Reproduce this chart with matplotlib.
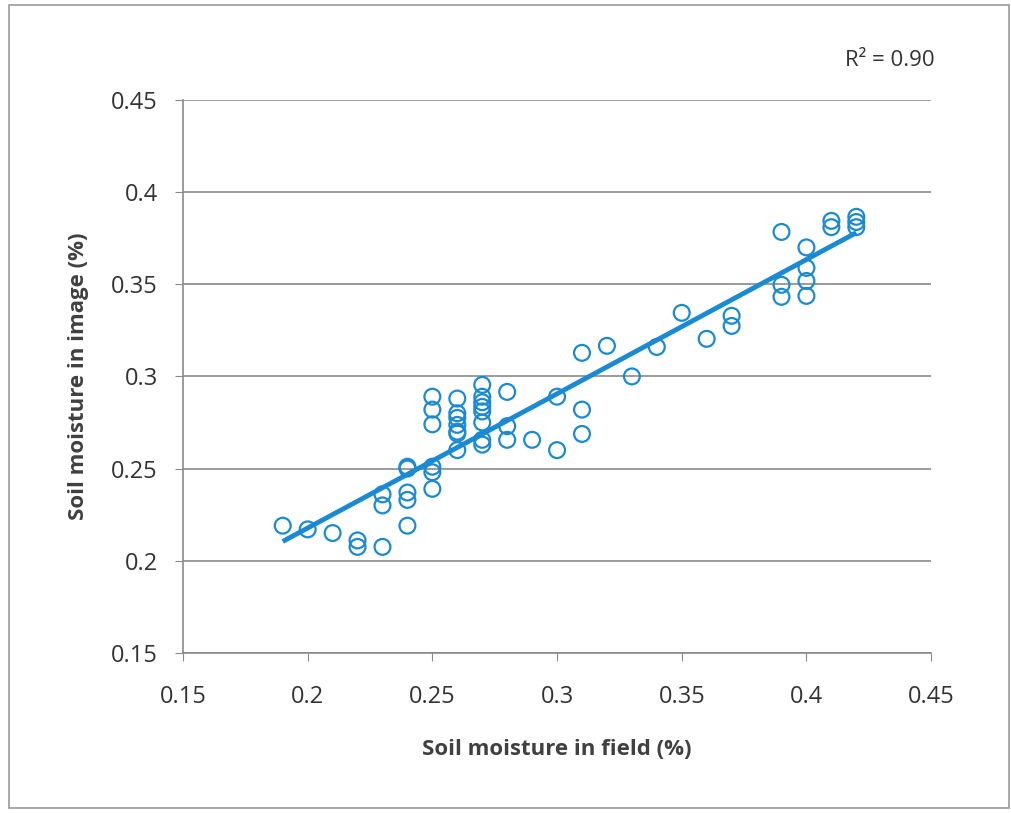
import numpy as np
import matplotlib.pyplot as plt
from matplotlib.patches import Rectangle

# field vs image soil moisture
field = [0.19, 0.20, 0.21, 0.22, 0.22,
         0.23, 0.23, 0.23,
         0.24, 0.24, 0.24, 0.24, 0.24,
         0.25, 0.25, 0.25, 0.25, 0.25, 0.25,
         0.26, 0.26, 0.26, 0.26, 0.26, 0.26, 0.26,
         0.27, 0.27, 0.27, 0.27, 0.27, 0.27, 0.27, 0.27,
         0.28, 0.28, 0.28, 0.29, 0.30, 0.30,
         0.31, 0.31, 0.31, 0.32, 0.33, 0.34, 0.35, 0.36, 0.37, 0.37,
         0.39, 0.39, 0.39, 0.40, 0.40, 0.40, 0.40,
         0.41, 0.41, 0.42, 0.42, 0.42]
image = [0.219, 0.217, 0.215, 0.211, 0.2075,
         0.236, 0.230, 0.2075,
         0.251, 0.250, 0.237, 0.233, 0.219,
         0.289, 0.282, 0.274, 0.251, 0.248, 0.239,
         0.288, 0.280, 0.2775, 0.2737, 0.270, 0.269, 0.260,
         0.2954, 0.289, 0.286, 0.2835, 0.281, 0.275, 0.2656, 0.263,
         0.2916, 0.273, 0.2656, 0.2656, 0.289, 0.260,
         0.3128, 0.282, 0.2688, 0.3166, 0.300, 0.316, 0.3345, 0.3204, 0.3329, 0.3274,
         0.3784, 0.3497, 0.3432, 0.370, 0.3589, 0.3518, 0.3437,
         0.3844, 0.381, 0.3866, 0.3838, 0.381]
tick_labels = ["0.15", "0.2", "0.25", "0.3", "0.35", "0.4", "0.45"]
r2_label = "R² = 0.90"

blue = "#1a8ad4"
grey = "#404040"
plt.rcParams["font.family"] = ["Open Sans", "DejaVu Sans"]

fig = plt.figure(figsize=(10.11, 8.13), dpi=100)
ax = fig.add_axes([0.181, 0.197, 0.740, 0.680])

ax.scatter(field, image, s=130, facecolors="none", edgecolors=blue, linewidths=1.6, zorder=3)

# linear trend line
slope, icept = np.polyfit(field, image, 1)
xs = np.array([min(field), max(field)])
ax.plot(xs, slope * xs + icept, color=blue, lw=3.5, zorder=4, solid_capstyle="butt")

ax.set_xlim(0.15, 0.45)
ax.set_ylim(0.15, 0.45)
ax.set_xticks(np.arange(0.15, 0.451, 0.05))
ax.set_yticks(np.arange(0.15, 0.451, 0.05))
ax.set_xticklabels(tick_labels)
ax.set_yticklabels(tick_labels)
ax.yaxis.grid(True, color="#8a8a8a", lw=1.2)
ax.set_axisbelow(True)
for s in ["top", "right"]:
    ax.spines[s].set_visible(False)
for s in ["left", "bottom"]:
    ax.spines[s].set_color("#8a8a8a")
    ax.spines[s].set_linewidth(1.2)
ax.tick_params(axis="both", direction="out", length=6, color="#8a8a8a",
               labelsize=17, labelcolor="#333333")
ax.tick_params(axis="x", pad=17)
ax.tick_params(axis="y", pad=12)

ax.set_xlabel("Soil moisture in field (%)", fontsize=16, fontweight="bold", color=grey, labelpad=22)
ax.set_ylabel("Soil moisture in image (%)", fontsize=16, fontweight="bold", color=grey, labelpad=16)

fig.text(890 / 1011, 1 - 60 / 813, r2_label, fontsize=16, color="#333333", ha="center", va="center")

# outer chart border
fig.patches.append(Rectangle((0.009, 0.006), 0.989, 0.988, transform=fig.transFigure,
                             fill=False, edgecolor="#999999", lw=1.2))

fig.savefig("out.png", dpi=100)
